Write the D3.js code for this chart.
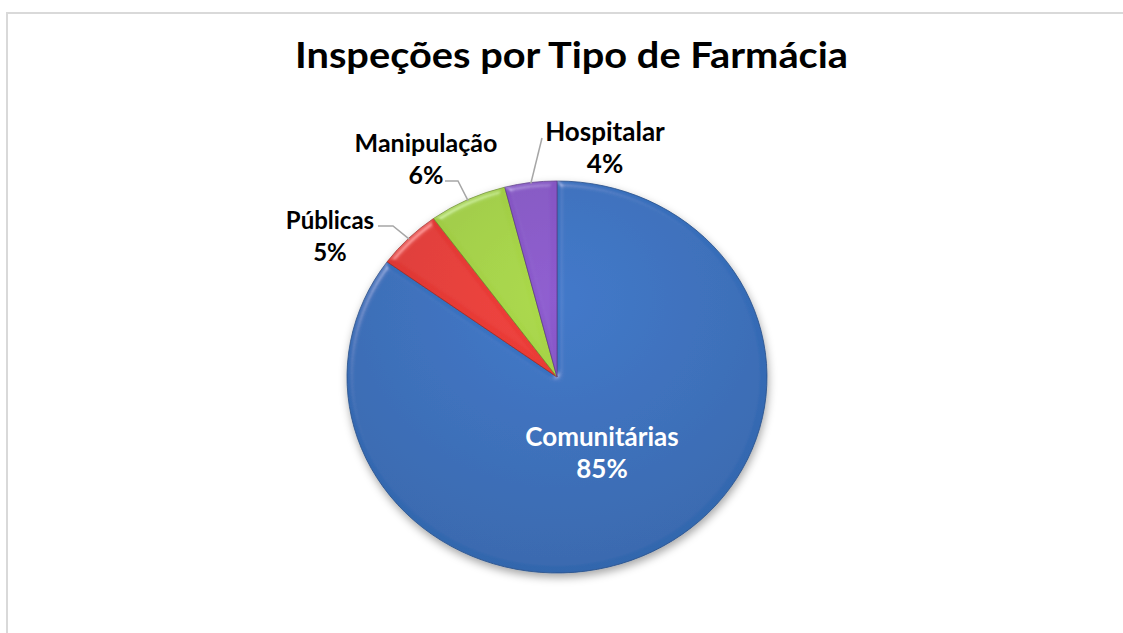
<!DOCTYPE html>
<html>
<head>
<meta charset="utf-8">
<script src="https://cdn.jsdelivr.net/npm/d3@7"></script>
<style>
  html, body { margin: 0; padding: 0; background: #fff; }
  svg { display: block; }
</style>
</head>
<body>
<svg id="chart" width="1123" height="633"></svg>
<script>
// ---- data ----
const title = "Inspeções por Tipo de Farmácia";
const categories = ["Comunitárias", "Públicas", "Manipulação", "Hospitalar"];
const values = [85, 5, 6, 4];
const colors = ["#3870BE", "#E43A35", "#A2CF45", "#8656C4"];

// ---- layout (kept apart from data) ----
const W = 1123, H = 633;
const cx = 557, cy = 377, ry = 196, rx = 210;
const labelLayout = [
  { x: 602, y: 446, size: 26, color: "#ffffff", leader: null },
  { x: 330, y: 229, size: 24, color: "#000000", leader: [[378, 226], [393, 226]] },
  { x: 426, y: 152, size: 25, color: "#000000", leader: [[445, 181], [458, 181]] },
  { x: 605, y: 141, size: 26, color: "#000000", leader: [[542, 138]] }
];
const lineGap = 32;

const svg = d3.select("#chart");
const defs = svg.append("defs");

// frame
svg.append("rect")
  .attr("x", 7).attr("y", 13)
  .attr("width", W + 10).attr("height", H + 10)
  .attr("fill", "#fff").attr("stroke", "#d9d9d9").attr("stroke-width", 2);

// title
svg.append("text")
  .attr("x", 571.5).attr("y", 68)
  .attr("text-anchor", "middle")
  .attr("font-family", "Lato, 'Open Sans', sans-serif")
  .attr("font-weight", 700)
  .attr("font-size", 37)
  .attr("textLength", 553)
  .attr("lengthAdjust", "spacingAndGlyphs")
  .attr("fill", "#000")
  .text(title);

// gradients per slice
colors.forEach((c, i) => {
  const g = defs.append("radialGradient")
    .attr("id", "grad" + i)
    .attr("gradientUnits", "userSpaceOnUse")
    .attr("cx", 0).attr("cy", -ry * 0.4).attr("r", ry * 1.5);
  g.append("stop").attr("offset", "0%").attr("stop-color", d3.color(c).brighter(0.15));
  g.append("stop").attr("offset", "100%").attr("stop-color", d3.color(c).darker(0.3));
});

// bevel filter (highlight only on edges facing the light)
const bevel = defs.append("filter").attr("id", "bevel")
  .attr("x", "-10%").attr("y", "-10%").attr("width", "120%").attr("height", "120%");
bevel.append("feGaussianBlur").attr("in", "SourceAlpha").attr("stdDeviation", 3).attr("result", "blur");
const spec = bevel.append("feSpecularLighting")
  .attr("in", "blur").attr("surfaceScale", 4).attr("specularConstant", 0.6)
  .attr("specularExponent", 25).attr("lighting-color", "#ffffff").attr("result", "spec");
spec.append("feDistantLight").attr("azimuth", 235).attr("elevation", 35);
bevel.append("feComposite").attr("in", "spec").attr("in2", "SourceAlpha").attr("operator", "in").attr("result", "specOut");
bevel.append("feComposite").attr("in", "SourceGraphic").attr("in2", "specOut")
  .attr("operator", "arithmetic").attr("k1", 0).attr("k2", 1).attr("k3", 0.35).attr("k4", 0);

// shadow filter
const shadow = defs.append("filter").attr("id", "shadow")
  .attr("x", "-20%").attr("y", "-20%").attr("width", "140%").attr("height", "140%");
shadow.append("feDropShadow").attr("dx", 1).attr("dy", 4).attr("stdDeviation", 4)
  .attr("flood-color", "#000").attr("flood-opacity", 0.35);

const pie = d3.pie().sort(null).value(d => d.value).startAngle(0).endAngle(2 * Math.PI);
const data = categories.map((c, i) => ({ name: c, value: values[i], i }));
const arcs = pie(data);
const arc = d3.arc().innerRadius(0).outerRadius(ry);

const sx = rx / ry;
const pieG = svg.append("g")
  .attr("transform", `translate(${cx},${cy}) scale(${sx},1)`)
  .attr("filter", "url(#shadow)");

pieG.selectAll("path.slice")
  .data(arcs)
  .join("path")
  .attr("class", "slice")
  .attr("d", arc)
  .attr("fill", d => `url(#grad${d.data.i})`)
  .attr("stroke", d => d3.color(colors[d.data.i]).darker(0.9))
  .attr("stroke-width", 0.8)
  .attr("stroke-linejoin", "round")
  .attr("filter", "url(#bevel)");

// leader lines: from label anchor to mid-angle point on the rim
const total = d3.sum(values);
arcs.forEach((a, k) => {
  const L = labelLayout[k];
  if (!L.leader) return;
  const mid = (a.startAngle + a.endAngle) / 2;
  const px = cx + Math.sin(mid) * rx * 0.995;
  const py = cy - Math.cos(mid) * ry * 0.995;
  const pts = L.leader.concat([[px, py]]);
  svg.append("path")
    .attr("d", d3.line()(pts))
    .attr("fill", "none")
    .attr("stroke", "#a6a6a6")
    .attr("stroke-width", 1.5);
});

// labels
arcs.forEach((a, k) => {
  const L = labelLayout[k];
  const t = svg.append("text")
    .attr("text-anchor", "middle")
    .attr("font-family", "Lato, 'Open Sans', sans-serif")
    .attr("font-weight", 700)
    .attr("font-size", L.size)
    .attr("fill", L.color);
  t.append("tspan").attr("x", L.x).attr("y", L.y).text(a.data.name);
  t.append("tspan").attr("x", L.x).attr("y", L.y + lineGap)
    .text(Math.round(a.data.value / total * 100) + "%");
});
</script>
</body>
</html>
